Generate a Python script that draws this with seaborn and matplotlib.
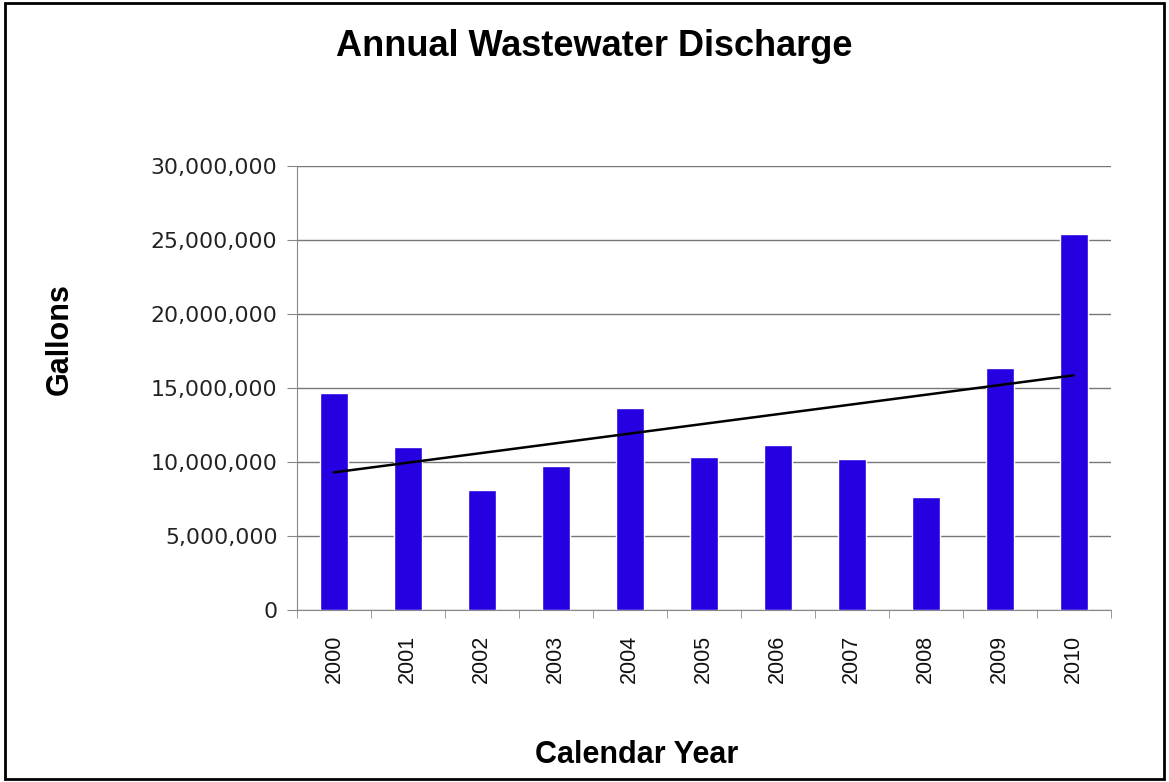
import numpy as np
import pandas as pd
import seaborn as sns
import matplotlib.pyplot as plt
from matplotlib.ticker import FuncFormatter, FixedLocator
from matplotlib.patches import Rectangle

years = ["2000", "2001", "2002", "2003", "2004", "2005", "2006", "2007", "2008", "2009", "2010"]
gallons = [14660000, 11010000, 8100000, 9750000, 13650000, 10340000,
           11150000, 10200000, 7640000, 16350000, 25400000]

df = pd.DataFrame({"year": years, "gallons": gallons, "pos": np.arange(len(years))})

sns.set_style("white")
plt.rcParams['font.family'] = ['Liberation Sans', 'DejaVu Sans']
plt.rcParams['text.color'] = 'black'
plt.rcParams['xtick.color'] = '#888888'
plt.rcParams['ytick.color'] = '#888888'
plt.rcParams['xtick.labelcolor'] = '#111111'
plt.rcParams['ytick.labelcolor'] = '#222222'

fig = plt.figure(figsize=(11.69, 7.82), dpi=100)
ax = fig.add_axes([0.254, 0.22, 0.696, 0.568])

sns.barplot(x="year", y="gallons", data=df, color="#2700E2", saturation=1, width=0.38, ax=ax, zorder=3)
# linear trendline
sns.regplot(x="pos", y="gallons", data=df, scatter=False, ci=None, ax=ax,
            line_kws={"color": "black", "linewidth": 1.8, "zorder": 4})

ax.set_ylim(0, 30000000)
ax.set_xlim(-0.5, len(years) - 0.5)
ax.set_yticks(np.arange(0, 30000001, 5000000))
ax.yaxis.set_major_formatter(FuncFormatter(lambda v, p: f"{int(v):,}"))
ax.grid(axis="y", color="#777777", linewidth=1, zorder=0)
ax.set_axisbelow(True)

ax.set_xticks(np.arange(len(years)))
ax.set_xticklabels(years, rotation=90, fontsize=15.5)
ax.xaxis.set_minor_locator(FixedLocator(np.arange(-0.5, len(years), 1)))
ax.tick_params(axis="x", which="major", length=0, pad=18)
ax.tick_params(axis="x", which="minor", length=6, direction="out", bottom=True)
ax.tick_params(axis="y", length=7, direction="out", left=True, pad=7)
for lab in ax.get_yticklabels():
    lab.set_fontfamily("DejaVu Sans")
    lab.set_fontsize(15.8)

for s in ["top", "right"]:
    ax.spines[s].set_visible(False)
ax.spines["left"].set_color("#888888")
ax.spines["bottom"].set_color("#888888")

ax.set_xlabel("")
ax.set_ylabel("")
ax.text(0.417, -0.326, "Calendar Year", transform=ax.transAxes, ha="center", va="center",
        fontsize=22, fontweight="bold")
ax.text(-0.291, 0.61, "Gallons", transform=ax.transAxes, ha="center", va="center",
        rotation=90, fontsize=22, fontweight="bold")
fig.text(0.508, 0.94, "Annual Wastewater Discharge", ha="center", va="center",
         fontsize=26, fontweight="bold")

fig.patches.append(Rectangle((0.004, 0.004), 0.992, 0.992, transform=fig.transFigure,
                             fill=False, edgecolor="black", linewidth=2))

fig.savefig("out.png", dpi=100)
